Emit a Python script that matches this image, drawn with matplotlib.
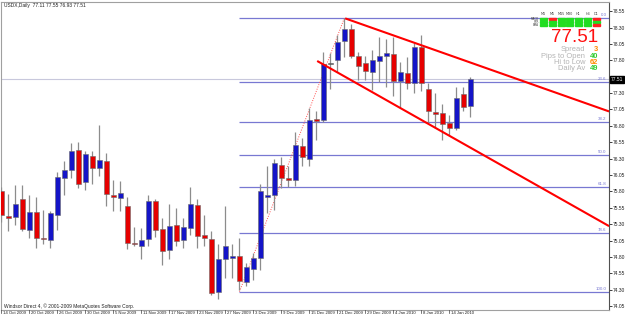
import matplotlib
matplotlib.use("Agg")
import matplotlib.pyplot as plt
import matplotlib.transforms as mtransforms

W, H = 625, 317

# ---- data (USDX daily) ----
date_labels = ["14 Oct 2009", "20 Oct 2009", "26 Oct 2009", "30 Oct 2009", "5 Nov 2009",
               "11 Nov 2009", "17 Nov 2009", "23 Nov 2009", "27 Nov 2009", "3 Dec 2009",
               "9 Dec 2009", "15 Dec 2009", "21 Dec 2009", "29 Dec 2009", "4 Jan 2010",
               "8 Jan 2010", "14 Jan 2010"]

opens = [75.80, 75.42, 75.41, 75.69, 75.21, 75.49, 75.09, 75.06, 75.44, 76.00,
         76.13, 76.43, 75.94, 76.34, 76.16, 76.27, 75.75, 75.70, 75.58, 75.01,
         74.97, 75.07, 75.65, 75.23, 74.90, 75.29, 75.06, 75.24, 75.59, 75.14,
         75.07, 74.26, 74.77, 74.78, 74.82, 74.42, 74.62, 74.78, 75.71, 75.75,
         76.21, 76.00, 75.98, 76.49, 76.30, 76.91, 76.89, 77.74, 77.81, 78.09,
         78.28, 77.86, 77.76, 77.62, 77.79, 77.87, 77.89, 77.49, 77.60, 77.46,
         78.01, 77.36, 77.01, 76.99, 76.84, 76.76, 77.28, 77.11]
highs = [75.87, 75.76, 75.90, 75.90, 75.75, 75.71, 75.51, 75.50, 76.10, 76.26,
         76.54, 76.55, 76.42, 76.42, 76.81, 76.39, 75.97, 75.96, 75.71, 75.26,
         75.24, 75.75, 75.69, 75.39, 75.61, 75.54, 75.39, 75.86, 75.69, 75.44,
         75.19, 75.00, 75.57, 75.00, 75.09, 74.70, 74.86, 75.92, 76.18, 76.30,
         76.33, 76.19, 76.71, 76.61, 77.07, 77.02, 77.93, 77.91, 78.18, 78.44,
         78.35, 77.93, 77.87, 77.96, 78.15, 78.13, 78.16, 77.78, 77.85, 78.06,
         78.18, 77.46, 77.30, 77.14, 76.96, 77.40, 77.40, 77.55]
lows = [75.34, 75.20, 75.29, 75.20, 75.09, 74.93, 75.00, 74.93, 75.21, 75.75,
        76.01, 75.85, 75.82, 75.92, 76.04, 75.58, 75.50, 75.50, 74.92, 74.96,
        74.77, 74.96, 75.11, 74.67, 74.77, 74.96, 74.93, 75.14, 74.93, 74.96,
        74.22, 74.16, 74.48, 74.48, 74.30, 74.35, 74.45, 74.60, 75.47, 75.52,
        75.85, 75.86, 75.88, 76.18, 76.18, 76.58, 76.86, 77.37, 77.62, 77.85,
        77.83, 77.50, 77.50, 77.34, 77.47, 77.40, 77.25, 77.08, 77.36, 77.30,
        77.33, 76.84, 76.76, 76.58, 76.66, 76.74, 77.03, 76.93]
closes = [75.44, 75.40, 75.61, 75.22, 75.49, 75.09, 75.07, 75.47, 76.02, 76.13,
          76.42, 75.92, 76.37, 76.16, 76.28, 75.76, 75.72, 75.77, 75.02, 74.99,
          75.06, 75.65, 75.21, 74.89, 75.27, 75.04, 75.25, 75.60, 75.12, 75.09,
          74.25, 74.77, 74.96, 74.82, 74.43, 74.64, 74.78, 75.81, 75.75, 76.23,
          76.01, 75.98, 76.51, 76.33, 76.89, 76.87, 77.74, 77.74, 78.08, 78.28,
          77.87, 77.72, 77.64, 77.81, 77.87, 77.91, 77.49, 77.62, 77.46, 78.00,
          77.45, 77.02, 76.98, 76.83, 76.76, 77.22, 77.09, 77.51]

fib_names = ["0.0", "23.6", "38.2", "50.0", "61.8", "78.6", "100.0"]
fib_ratios = [0.0, 0.236, 0.382, 0.5, 0.618, 0.786, 1.0]
fib_high, fib_low = 78.45, 74.27
fib_start_bar, fib_high_bar = 34, 49

# trend channel: (bar, price) end points
upper_line = [(49.1, 78.44), (86.8, 77.02)]
lower_line = [(45.1, 77.79), (86.8, 75.27)]

price_ticks = [74.05, 74.30, 74.55, 74.80, 75.05, 75.30, 75.55, 75.80, 76.05,
               76.30, 76.55, 76.80, 77.05, 77.30, 77.80, 78.05, 78.30, 78.55]
bid = 77.51

signal_cols = ["M1", "M5", "M15", "M30", "H1", "H4", "D1"]
signal_rows = ["MACD", "STR", "EMA"]
signal_up = [[1, 0, 1, 1, 1, 1, 0],
             [1, 1, 1, 1, 1, 1, 1],
             [1, 1, 1, 1, 1, 1, 0]]
stats = [("Spread", "3", "#ff8c00"), ("Pips to Open", "40", "#33cc33"),
         ("Hi to Low", "62", "#ff8c00"), ("Daily Av", "49", "#33cc33")]

BLUE = "#1414c8"
RED = "#e60000"
FIB = "#7878d2"
SMALL = dict(fontsize=3.5, family="Liberation Sans")


def fpos(x, y):
    return x / W, 1 - y / H


fig = plt.figure(figsize=(W / 100, H / 100), dpi=100)
fig.patch.set_facecolor("white")
ax = fig.add_axes([1 / W, (H - 310) / H, 608 / W, 308 / H])
ax.set_facecolor("white")
ax.set_xlim(-0.07, 86.79)
ax.set_ylim(73.99, 78.69)

# candles
for i in range(len(opens)):
    o, h, l, c = opens[i], highs[i], lows[i], closes[i]
    ax.vlines(i, l, h, color="#8c8c8c", lw=0.9, zorder=3)
    if c > o:
        col = BLUE
    elif c < o:
        col = RED
    else:
        col = "#303030"
    bot = min(o, c)
    hgt = max(abs(c - o), 0.02)
    ax.bar(i, hgt, bottom=bot, width=0.68, color=col, edgecolor="#6a6a6a",
           linewidth=0.4, zorder=4)

# fibonacci levels
for name, r in zip(fib_names, fib_ratios):
    lvl = fib_high - r * (fib_high - fib_low)
    ax.hlines(lvl, fib_start_bar, 86.79, color=FIB, lw=0.9, zorder=2)
    ax.text(86.45, lvl + 0.015, name, color=FIB, ha="right", va="bottom",
            zorder=5, fontsize=3.2, family="Liberation Sans")
ax.plot([fib_start_bar, fib_high_bar], [fib_low, fib_high], color="#ff5050",
        lw=0.7, ls=(0, (1, 1.5)), zorder=2)

# bid line
ax.axhline(bid, color="#c8c8dc", lw=0.8, zorder=1)

# channel lines
for line in (upper_line, lower_line):
    ax.plot([line[0][0], line[1][0]], [line[0][1], line[1][1]], color="#ff0000",
            lw=1.5, zorder=6, solid_capstyle="butt")

# axes styling
for s in ["top", "left", "bottom"]:
    ax.spines[s].set_color("#a0a0a0")
    ax.spines[s].set_linewidth(0.8)
ax.spines["right"].set_color("#505050")
ax.spines["right"].set_linewidth(0.8)
ax.yaxis.tick_right()
ax.set_yticks(price_ticks)
ax.set_yticklabels(["%.2f" % p for p in price_ticks], family="Liberation Sans")
ax.tick_params(axis="y", direction="out", length=2, width=0.6, pad=0.8,
               labelsize=3.5, colors="#202020")
ax.set_xticks([])

trans = mtransforms.blended_transform_factory(ax.transAxes, ax.transData)
ax.text(1.003, bid, "77.51", transform=trans, color="white", va="center",
        ha="left", zorder=10, bbox=dict(boxstyle="square,pad=0.15", fc="black",
                                        ec="black"), **SMALL)

# date axis
for k, lab in enumerate(date_labels):
    bar_i = k * 4
    xp = ax.transData.transform((bar_i, 0))[0] * 100 / fig.dpi
    fig.add_artist(plt.Line2D([xp / W, xp / W], [1 - 310 / H, 1 - 313 / H],
                              color="#404040", lw=0.5))
    fig.text(*fpos(xp + 1.5, 313.5), lab, ha="left", va="center",
             color="#202020", fontsize=3.1, family="Liberation Sans")

# header texts
fig.text(*fpos(4, 5), "USDX,Daily  77.11 77.55 76.93 77.51", ha="left",
         va="center", color="#202020", **SMALL)
fig.text(*fpos(4, 306), "Windsor Direct 4, \u00a9 2001-2009 MetaQuotes Software Corp.",
         ha="left", va="center", color="#202020", **SMALL)

# signal table
col_x = [540, 549, 557.5, 566, 575, 584, 593]
for j, name in enumerate(signal_cols):
    fig.text(*fpos(col_x[j] + 3.5, 14), name, fontsize=2.4, ha="center",
             va="center", color="#404040")
for r, name in enumerate(signal_rows):
    y = 19 + 3 * r
    fig.text(*fpos(539, y), name, fontsize=2.0, ha="right", va="center",
             color="#404040")
    for j in range(len(signal_cols)):
        col = "#22dd22" if signal_up[r][j] else "#ff2020"
        x0, y0 = fpos(col_x[j], y + 1.2)
        fig.add_artist(plt.Rectangle((x0, y0), 7 / W, 2.4 / H, color=col,
                                     transform=fig.transFigure))

fig.text(*fpos(598, 37), "77.51", fontsize=13.5, family="Liberation Sans",
         ha="right", va="center", color="#ff1010")
for k, (lab, val, col) in enumerate(stats):
    y = 49.5 + 6.5 * k
    fig.text(*fpos(585, y), lab, fontsize=5.4, family="Liberation Sans",
             ha="right", va="center", color="#b4b4b4")
    fig.text(*fpos(598, y), val, fontsize=5.4, family="Liberation Sans",
             ha="right", va="center", color=col, weight="bold")

fig.savefig("out.png", dpi=100)
